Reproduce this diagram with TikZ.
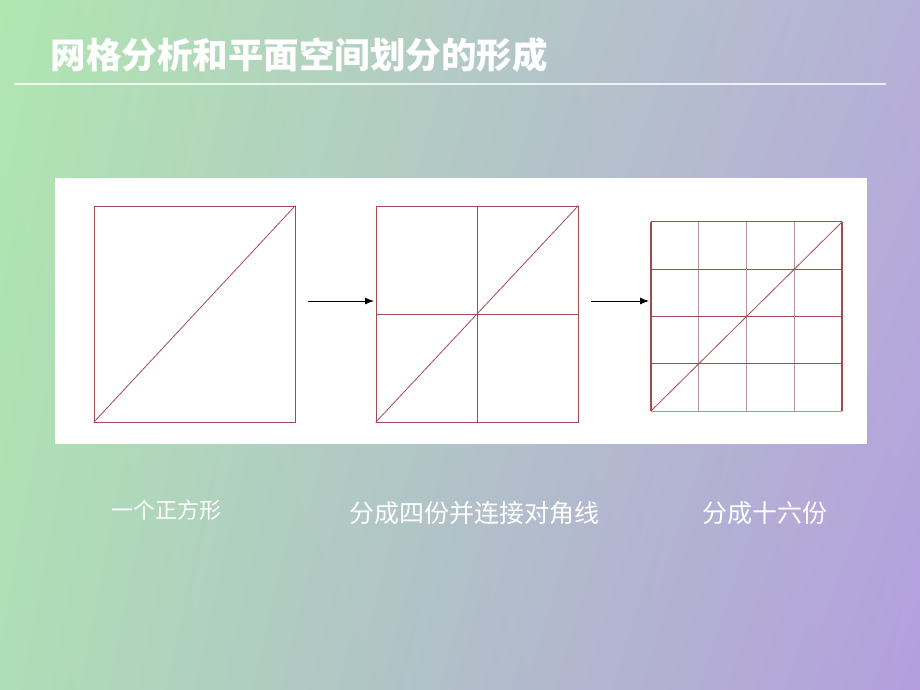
\documentclass[tikz,border=0pt]{standalone}
\usepackage{fontspec}
\newfontfamily\cjk{Noto Sans CJK SC}
\usetikzlibrary{positioning,shadings,calc,arrows.meta}
\definecolor{bgtl}{RGB}{176,230,176}
\definecolor{bgtr}{RGB}{182,176,216}
\definecolor{bgbl}{RGB}{174,222,182}
\definecolor{bgbr}{RGB}{180,158,222}
\definecolor{gridred}{RGB}{164,74,80}
\definecolor{gridgrey}{RGB}{186,146,156}
\tikzset{
	captext/.style={text=white, font=\cjk\fontsize{25}{28}\selectfont},
}

\begin{document}
\begin{tikzpicture}[x=1pt, y=-1pt]
		\useasboundingbox (0,0) rectangle (920,690);
		\shade[upper left=bgtl, upper right=bgtr, lower left=bgbl, lower right=bgbr] (0,0) rectangle (920,690);
		
		\node[anchor=west, text=white, font=\cjk\bfseries\fontsize{35.5}{40}\selectfont] (title) at (47,55) {网格分析和平面空间划分的形成};
		\draw[white, opacity=0.8, line width=1.2pt] (14,84) -- (886,84);
		
		\fill[white] (55,178) rectangle (867,444);
		
		% one square
		\node[draw=gridred, line width=0.9pt, minimum width=201pt, minimum height=216pt, inner sep=0pt] (sqa) at (194.5,314) {};
		\draw[gridred, line width=0.8pt] (sqa.south west) -- (sqa.north east);
		
		% four parts
		\node[draw=gridred, line width=0.9pt, minimum width=202pt, minimum height=216pt, inner sep=0pt] (sqb) at (477,314) {};
		\draw[gridred, line width=0.8pt] (sqb.south west) -- (sqb.north east);
		\draw[gridred, line width=0.8pt] (sqb.north) -- (sqb.south);
		\draw[gridred, line width=0.8pt] (sqb.west) -- (sqb.east);
		
		% sixteen parts
		\node[minimum width=191pt, minimum height=189pt, inner sep=0pt] (sqc) at (746.5,316.5) {};
		\foreach \i in {1,2,3} {
			\draw[gridgrey, line width=0.8pt] ($(sqc.north west)!\i/4!(sqc.north east)$) -- ($(sqc.south west)!\i/4!(sqc.south east)$);
			\draw[gridred, line width=1.1pt] ($(sqc.north west)!\i/4!(sqc.south west)$) -- ($(sqc.north east)!\i/4!(sqc.south east)$);
		}
		\draw[gridred, line width=1.1pt] (sqc.north west) -- (sqc.north east);
		\draw[gridgrey, line width=1pt] (sqc.south west) -- (sqc.south east);
		\draw[gridred, line width=1.7pt] (sqc.north west) -- (sqc.south west);
		\draw[gridred, line width=1.7pt] (sqc.north east) -- (sqc.south east);
		\draw[gridred, line width=0.8pt] (sqc.south west) -- (sqc.north east);
		
		% arrows
		\coordinate (arra) at (308,301);
		\coordinate (arrb) at (374,301);
		\coordinate (arrc) at (591,301);
		\coordinate (arrd) at (649,301);
		\draw[-{Latex[length=9pt,width=7pt]}, line width=0.9pt] (arra) -- (arrb);
		\draw[-{Latex[length=9pt,width=7pt]}, line width=0.9pt] (arrc) -- (arrd);
		
		\node[captext, font=\cjk\fontsize{22}{26}\selectfont] (laba) at (166,510) {一个正方形};
		\node[captext] (labb) at (474,513) {分成四份并连接对角线};
		\node[captext] (labc) at (765,513) {分成十六份};
	\end{tikzpicture}
\end{document}
